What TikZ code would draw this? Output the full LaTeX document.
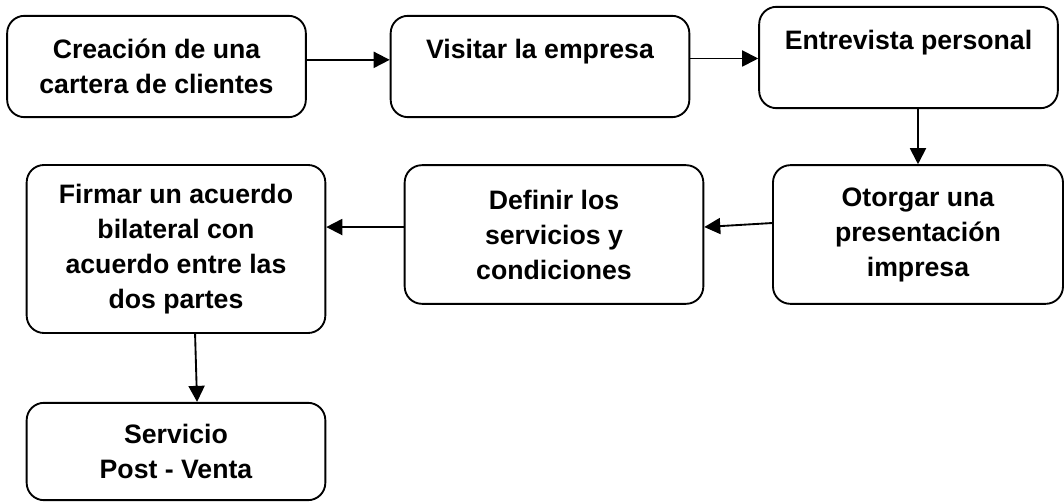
\documentclass[tikz,border=0pt]{standalone}
\usepackage{fontspec}
\setmainfont{Liberation Sans}
\usetikzlibrary{arrows.meta}

\begin{document}
\begin{tikzpicture}[x=0.75pt,y=-0.75pt,
        caja/.style={draw,line width=1.4pt,rounded corners=13pt,align=center,inner sep=0pt,
            font=\fontsize{20}{26.25}\selectfont\bfseries,minimum width=224pt},
        flecha/.style={line width=1.4pt,-{Triangle[length=12pt,width=12pt]}}]
        \useasboundingbox (0,0) rectangle (1064,502);
        \node[caja,minimum height=76pt] (cartera) at (156.5,66.5) {Creación de una\\cartera de clientes};
        \node[caja,minimum height=76pt] (visita) at (540,66.5) {Visitar la empresa\\\mbox{}};
        \node[caja,minimum height=76pt] (entrevista) at (908.5,57.5) {Entrevista personal\\\mbox{}};
        \node[caja,minimum height=104pt,minimum width=217.5pt] (presentacion) at (918,234.5) {Otorgar una\\presentación\\impresa};
        \node[caja,minimum height=104pt] (servicios) at (554,234.5) {Definir los\\servicios y\\condiciones};
        \node[caja,minimum height=126pt] (acuerdo) at (176,249) {Firmar un acuerdo\\bilateral con\\acuerdo entre las\\dos partes};
        \node[caja,minimum height=73pt] (postventa) at (176,451.5) {Servicio\\Post - Venta};
        \draw[flecha] ([yshift=5pt]cartera.east) -- ([yshift=5pt]cartera.east -| visita.west);
        \draw[flecha] ([yshift=6pt]visita.east) -- ([yshift=6pt]visita.east -| entrevista.west);
        \draw[flecha] (presentacion.north |- entrevista.south) -- (presentacion.north);
        \draw[flecha] ([yshift=8.6pt]presentacion.west) -- ([yshift=5.6pt]servicios.east);
        \draw[flecha] ([yshift=5.6pt]servicios.west) -- ([yshift=5.6pt]servicios.west -| acuerdo.east);
        \draw[flecha] ([xshift=14.3pt]acuerdo.south) -- ([xshift=15.8pt]postventa.north);
    \end{tikzpicture}
\end{document}
